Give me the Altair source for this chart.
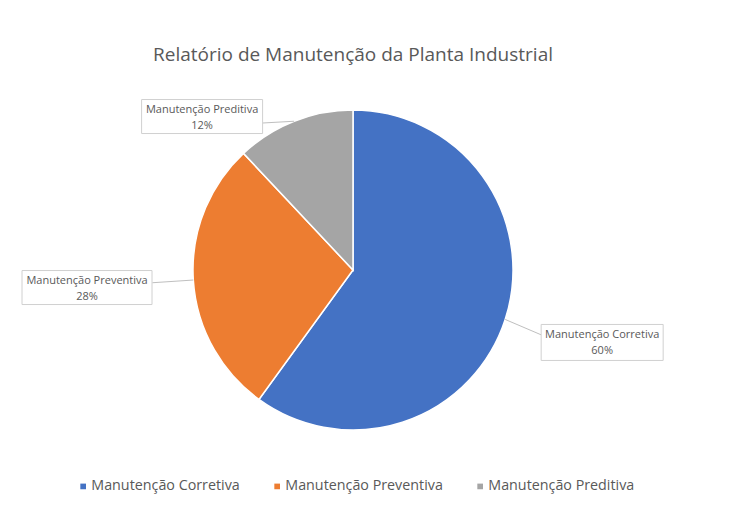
import altair as alt
import pandas as pd

# ---- data ----
categories = ["Manutenção Corretiva", "Manutenção Preventiva", "Manutenção Preditiva"]
shares = [60, 28, 12]
colors = ["#4472C4", "#ED7D31", "#A5A5A5"]
title_text = "Relatório de Manutenção da Planta Industrial"

df = pd.DataFrame({
    "categoria": categories,
    "valor": shares,
    "ordem": list(range(len(categories))),
})

# ---- layout (style, not data) ----
W, H = 690, 340
CX, CY, R = W / 2, H / 2, 160
FONT = "Open Sans"
TXT = "#595959"

# label box layout relative to the slice mid-point on the rim:
# (box centre dx, dy, box width, box height, leader end dx, dy)
label_layout = {
    "Manutenção Corretiva": (97, 23, 122, 36, 36.5, 15.6),
    "Manutenção Preventiva": (-106.3, 7.5, 130, 34, -41, 2.7),
    "Manutenção Preditiva": (-92, -4.7, 121, 34, -32, 1.8),
}

color_scale = alt.Scale(domain=categories, range=colors)

pie = alt.Chart(df).mark_arc(outerRadius=R, stroke="white", strokeWidth=1.5).encode(
    theta=alt.Theta("valor:Q", stack=True),
    order=alt.Order("ordem:Q"),
    color=alt.Color(
        "categoria:N",
        scale=color_scale,
        legend=alt.Legend(
            title=None,
            orient="none",
            legendX=68,
            legendY=379,
            direction="horizontal",
            symbolType="square",
            symbolSize=32,
            symbolStrokeWidth=0,
            labelFont=FONT,
            labelFontSize=14.3,
            labelColor=TXT,
            labelOffset=1,
            columnPadding=30,
        ),
    ),
)

base = (
    alt.Chart(df)
    .transform_joinaggregate(total="sum(valor)")
    .transform_window(cum="sum(valor)", sort=[alt.SortField("ordem")], frame=[None, 0])
    .transform_calculate(
        mid="(datum.cum - datum.valor / 2) / datum.total * 2 * PI",
    )
    .transform_calculate(
        ax=f"{CX} + {R} * sin(datum.mid)",
        ay=f"{CY} - {R} * cos(datum.mid)",
        label="datum.categoria + '\\n' + format(datum.valor / datum.total, '.0%')",
    )
)

layers = [pie]
for cat, (bx, by, bw, bh, lx, ly) in label_layout.items():
    b = base.transform_filter(alt.datum.categoria == cat).transform_calculate(
        lx=f"datum.ax + {lx}",
        ly=f"datum.ay + {ly}",
        x0=f"datum.ax + {bx - bw / 2}",
        x1=f"datum.ax + {bx + bw / 2}",
        y0=f"datum.ay + {by - bh / 2}",
        y1=f"datum.ay + {by + bh / 2}",
        tx=f"datum.ax + {bx}",
        ty=f"datum.ay + {by}",
    )
    leader = b.mark_rule(color="#BFBFBF", strokeWidth=1).encode(
        x=alt.X("ax:Q", scale=None, axis=None),
        y=alt.Y("ay:Q", scale=None, axis=None),
        x2="lx:Q",
        y2="ly:Q",
    )
    box = b.mark_rect(fill="white", stroke="#D0D0D0", strokeWidth=1).encode(
        x=alt.X("x0:Q", scale=None, axis=None),
        x2="x1:Q",
        y=alt.Y("y0:Q", scale=None, axis=None),
        y2="y1:Q",
    )
    text = b.mark_text(
        font=FONT, fontSize=11, color=TXT, lineBreak="\n", lineHeight=16,
        align="center", baseline="middle", dy=-7,
    ).encode(
        x=alt.X("tx:Q", scale=None, axis=None),
        y=alt.Y("ty:Q", scale=None, axis=None),
        text="label:N",
    )
    layers += [leader, box, text]

chart = (
    alt.layer(*layers)
    .properties(
        width=W,
        height=H,
        title=alt.TitleParams(
            title_text, font=FONT, fontSize=19, fontWeight="normal",
            color=TXT, anchor="middle", offset=34,
        ),
        padding={"left": 0, "top": 92, "right": 20, "bottom": 80},
        autosize=alt.AutoSizeParams(type="none"),
    )
    .configure(background="white", view=alt.ViewConfig(strokeWidth=0, stroke="transparent"))
)

chart.save("out.html", embed_options={"renderer": "svg", "actions": False})
